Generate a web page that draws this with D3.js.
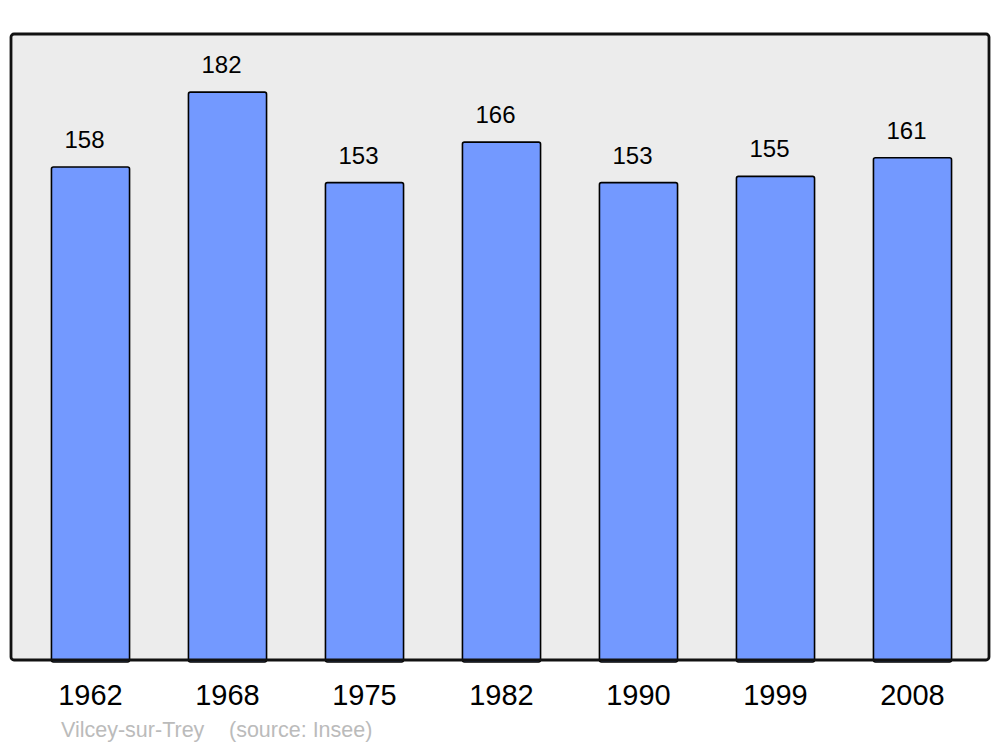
<!DOCTYPE html>
<html>
<head>
<meta charset="utf-8">
<script src="https://cdn.jsdelivr.net/npm/d3@7"></script>
<style>
  body { margin: 0; background: #fff; }
  text { font-family: "Liberation Sans", Arial, sans-serif; }
</style>
</head>
<body>
<svg width="1000" height="747"></svg>
<script>
// Population data
var years = ["1962", "1968", "1975", "1982", "1990", "1999", "2008"];
var population = [158, 182, 153, 166, 153, 155, 161];
var place = "Vilcey-sur-Trey";
var source = "(source: Insee)";

var svg = d3.select("svg");

var panel = {left: 11, right: 989, top: 34, bottom: 660};

var x = d3.scaleBand()
    .domain(years)
    .range([22, 981])
    .paddingInner(0.43)
    .paddingOuter(0.215);

var y = d3.scaleLinear()
    .domain([0, 200])
    .range([panel.bottom, panel.bottom - 200 * 3.12]);

// background panel
svg.append("rect")
    .attr("x", panel.left)
    .attr("y", panel.top)
    .attr("width", panel.right - panel.left)
    .attr("height", panel.bottom - panel.top)
    .attr("rx", 3)
    .attr("fill", "#ececec")
    .attr("stroke", "none");

var data = years.map(function(d, i) { return {year: d, value: population[i]}; });

// bars
svg.selectAll("rect.bar")
    .data(data)
    .enter().append("rect")
    .attr("class", "bar")
    .attr("x", function(d) { return x(d.year); })
    .attr("y", function(d) { return y(d.value); })
    .attr("width", x.bandwidth())
    .attr("height", function(d) { return y(0) - y(d.value) + 2; })
    .attr("rx", 2)
    .attr("fill", "#7399ff")
    .attr("stroke", "#000")
    .attr("stroke-width", 1.6);

// panel border on top
svg.append("rect")
    .attr("x", panel.left)
    .attr("y", panel.top)
    .attr("width", panel.right - panel.left)
    .attr("height", panel.bottom - panel.top)
    .attr("rx", 3)
    .attr("fill", "none")
    .attr("stroke", "#111")
    .attr("stroke-width", 2.8);

// value labels
svg.selectAll("text.value")
    .data(data)
    .enter().append("text")
    .attr("class", "value")
    .attr("x", function(d) { return x(d.year) + x.bandwidth() / 2 - 6; })
    .attr("y", function(d) { return y(d.value) - 19; })
    .attr("text-anchor", "middle")
    .attr("font-size", 24)
    .attr("fill", "#000")
    .text(function(d) { return d.value; });

// year labels
svg.selectAll("text.year")
    .data(years)
    .enter().append("text")
    .attr("class", "year")
    .attr("x", function(d) { return x(d) + x.bandwidth() / 2; })
    .attr("y", 705)
    .attr("text-anchor", "middle")
    .attr("font-size", 29)
    .attr("fill", "#000")
    .text(function(d) { return d; });

// footer
svg.append("text")
    .attr("x", 61)
    .attr("y", 737)
    .attr("font-size", 21.5)
    .attr("fill", "#bbb")
    .text(place);

svg.append("text")
    .attr("x", 229)
    .attr("y", 737)
    .attr("font-size", 21.5)
    .attr("fill", "#bbb")
    .text(source);
</script>
</body>
</html>
